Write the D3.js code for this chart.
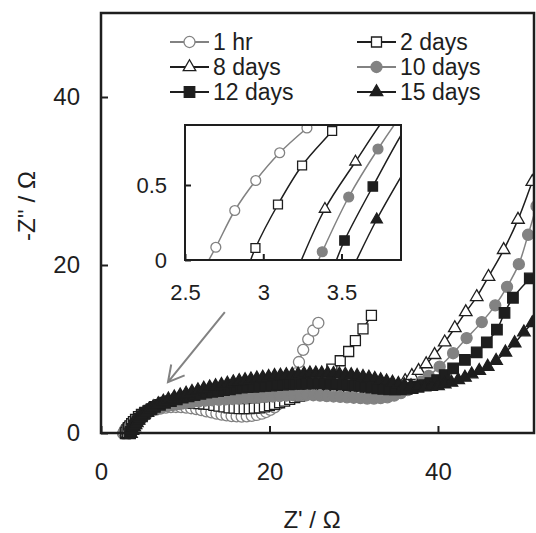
<!DOCTYPE html>
<html>
<head>
<meta charset="utf-8">
<script src="https://cdn.jsdelivr.net/npm/d3@7"></script>
<style>
  body { margin: 0; background: #fff; }
  text { font-family: "Liberation Sans", Arial, sans-serif; fill: #1e1e1e; }
</style>
</head>
<body>
<svg id="chart" width="536" height="533"></svg>
<script>
// Nyquist data: [Z', -Z''] in ohm
const seriesNames = ["1 hr", "2 days", "8 days", "10 days", "12 days", "15 days"];

const hr1 = [[2.62,-0.06],[2.697,0.085],[2.818,0.33],[2.952,0.53],[3.105,0.715],[3.279,0.88],[3.48,1.05],[3.7,1.25],[4.0,1.5],[4.3,1.72],[4.65,1.95],[5.05,2.18],[5.5,2.4],[6.0,2.6],[6.55,2.78],[7.1,2.92],[7.7,3.02],[8.3,3.08],[8.9,3.1],[9.5,3.08],[10.1,3.02],[10.7,2.95],[11.3,2.85],[11.9,2.72],[12.5,2.58],[13.1,2.45],[13.7,2.32],[14.3,2.2],[14.9,2.1],[15.5,2.02],[16.1,1.98],[16.7,1.96],[17.3,1.98],[17.9,2.05],[18.5,2.15],[19.1,2.3],[19.6,2.5],[20.1,2.75],[20.6,3.05],[21.0,3.4],[21.4,3.8],[21.8,4.3],[22.2,4.9],[22.7,5.9],[23.1,7.1],[23.5,8.45],[24.0,9.9],[24.6,11.15],[25.2,12.2],[25.8,13.1]];

const day2 = [[2.9,-0.06],[2.95,0.08],[3.094,0.37],[3.248,0.63],[3.44,0.86],[3.64,1.1],[3.85,1.35],[4.1,1.62],[4.45,1.95],[4.8,2.2],[5.2,2.45],[5.7,2.7],[6.2,2.9],[6.8,3.1],[7.4,3.25],[8.0,3.35],[8.6,3.45],[9.2,3.5],[9.8,3.55],[10.4,3.55],[11.0,3.55],[11.6,3.5],[12.2,3.45],[12.8,3.4],[13.4,3.3],[14.0,3.2],[14.6,3.1],[15.2,3.0],[15.8,2.95],[16.4,2.9],[17.0,2.9],[17.6,2.9],[18.2,2.95],[18.8,3.0],[19.4,3.1],[20.0,3.25],[20.6,3.4],[21.2,3.6],[21.8,3.8],[22.4,4.0],[23.0,4.2],[23.6,4.4],[24.2,4.6],[24.8,4.8],[25.4,5.0],[26.0,5.3],[26.5,5.8],[26.9,6.6],[27.4,7.6],[28.4,8.6],[29.4,9.7],[30.2,11.0],[31.1,12.4],[32.1,14.0]];

const day8 = [[3.22,-0.06],[3.394,0.34],[3.589,0.655],[3.8,0.98],[4.0,1.22],[4.2,1.45],[4.45,1.7],[4.75,1.95],[5.1,2.2],[5.5,2.45],[6.0,2.7],[6.6,2.95],[7.2,3.15],[7.9,3.35],[8.6,3.5],[9.3,3.65],[10.0,3.75],[10.8,3.85],[11.6,3.95],[12.4,4.0],[13.2,4.05],[14.0,4.1],[14.8,4.15],[15.6,4.2],[16.4,4.25],[17.2,4.3],[18.0,4.35],[18.8,4.4],[19.6,4.45],[20.4,4.5],[21.2,4.55],[22.0,4.6],[22.8,4.65],[23.6,4.7],[24.4,4.75],[25.2,4.8],[26.0,4.8],[26.8,4.8],[27.6,4.8],[28.4,4.8],[29.2,4.75],[30.0,4.75],[30.8,4.75],[31.6,4.75],[32.4,4.8],[33.2,4.9],[33.9,5.05],[34.6,5.3],[35.3,5.7],[36.1,6.2],[36.9,6.8],[37.7,7.4],[38.6,8.2],[39.6,9.3],[40.8,10.8],[42.0,12.5],[43.3,14.4],[44.6,16.2],[46.0,18.6],[47.8,21.8],[49.5,25.4],[51.2,29.9],[52.8,34.0]];

const day10 = [[3.33,-0.06],[3.377,0.055],[3.546,0.42],[3.733,0.74],[3.92,1.02],[4.1,1.25],[4.3,1.5],[4.55,1.75],[4.85,2.0],[5.2,2.22],[5.6,2.45],[6.0,2.65],[6.6,2.88],[7.2,3.05],[7.9,3.2],[8.6,3.35],[9.3,3.45],[10.0,3.55],[10.8,3.65],[11.6,3.75],[12.4,3.85],[13.2,3.9],[14.0,3.95],[14.8,4.0],[15.6,4.05],[16.4,4.1],[17.2,4.15],[18.0,4.2],[18.8,4.25],[19.6,4.3],[20.4,4.35],[21.2,4.4],[22.0,4.45],[22.8,4.5],[23.6,4.5],[24.4,4.5],[25.2,4.5],[26.0,4.45],[26.8,4.4],[27.6,4.35],[28.4,4.3],[29.2,4.25],[30.0,4.2],[30.8,4.15],[31.6,4.1],[32.4,4.1],[33.2,4.15],[34.0,4.25],[34.8,4.45],[35.6,4.75],[36.4,5.1],[37.2,5.55],[38.0,6.1],[38.9,6.8],[40.2,7.9],[41.8,9.5],[43.4,11.3],[45.2,13.2],[46.8,15.2],[48.2,17.4],[49.6,20.1],[50.7,23.6],[51.7,27.0]];

const day12 = [[3.45,-0.05],[3.519,0.13],[3.70,0.49],[3.92,0.9],[4.1,1.15],[4.3,1.42],[4.55,1.72],[4.85,2.02],[5.2,2.32],[5.6,2.6],[6.0,2.85],[6.4,3.1],[7.0,3.35],[7.6,3.6],[8.3,3.8],[9.0,4.0],[9.7,4.2],[10.4,4.35],[11.1,4.5],[11.8,4.65],[12.5,4.8],[13.2,4.9],[13.9,5.0],[14.6,5.1],[15.3,5.2],[16.0,5.3],[16.7,5.4],[17.4,5.45],[18.1,5.5],[18.8,5.55],[19.5,5.6],[20.2,5.65],[20.9,5.7],[21.6,5.75],[22.3,5.8],[23.0,5.85],[23.7,5.85],[24.4,5.9],[25.1,5.9],[25.8,5.9],[26.5,5.9],[27.2,5.85],[27.9,5.8],[28.6,5.75],[29.3,5.7],[30.0,5.65],[30.7,5.6],[31.4,5.5],[32.1,5.4],[32.8,5.3],[33.5,5.25],[34.2,5.2],[34.9,5.2],[35.6,5.2],[36.3,5.25],[37.0,5.35],[37.7,5.5],[38.4,5.7],[39.1,5.95],[39.9,6.3],[40.8,6.9],[41.8,7.7],[43.2,8.7],[44.6,9.6],[45.8,10.8],[47.0,12.3],[47.9,14.3],[48.9,16.1],[50.9,18.4],[52.2,19.8]];

const day15 = [[3.56,-0.08],[3.725,0.27],[3.95,0.68],[4.1,0.95],[4.25,1.2],[4.45,1.48],[4.7,1.8],[4.95,2.1],[5.3,2.45],[5.7,2.8],[6.2,3.1],[6.8,3.45],[7.4,3.75],[8.0,4.0],[8.7,4.25],[9.4,4.5],[10.1,4.7],[10.8,4.9],[11.5,5.1],[12.2,5.3],[12.9,5.45],[13.6,5.6],[14.3,5.75],[15.0,5.9],[15.7,6.05],[16.4,6.2],[17.1,6.3],[17.8,6.4],[18.5,6.5],[19.2,6.6],[19.9,6.7],[20.6,6.8],[21.3,6.85],[22.0,6.9],[22.7,6.95],[23.4,7.0],[24.1,7.05],[24.8,7.1],[25.5,7.1],[26.2,7.1],[26.9,7.1],[27.6,7.05],[28.3,7.0],[29.0,6.95],[29.7,6.9],[30.4,6.8],[31.1,6.7],[31.8,6.6],[32.5,6.45],[33.2,6.3],[33.9,6.15],[34.6,6.0],[35.3,5.85],[36.0,5.7],[36.8,5.6],[37.6,5.5],[38.4,5.45],[39.2,5.5],[40.0,5.6],[40.8,5.8],[41.6,6.0],[42.4,6.3],[43.2,6.6],[44.0,7.0],[44.9,7.4],[45.9,7.9],[46.9,8.6],[48.0,9.6],[49.1,10.7],[50.2,12.0],[51.2,13.1],[52.3,14.3]];

// axes
const xTicks = [0, 20, 40];
const yTicks = [0, 20, 40];
const insetXTicks = [2.5, 3, 3.5];
const insetYTicks = [0, 0.5];
// arrow pointing at the high-frequency region, [Z', -Z'']
const arrowFrom = [14.7, 14.4];
const arrowTo = [7.95, 6.05];

const black = "#1e1e1e";
const gray = "#828282";

const styles = [
  { data: hr1,   color: gray,  shape: d3.symbolCircle,   fill: "#fff", size: 96 },
  { data: day2,  color: black, shape: d3.symbolSquare,   fill: "#fff", size: 100 },
  { data: day8,  color: black, shape: d3.symbolTriangle, fill: "#fff", size: 68 },
  { data: day10, color: gray,  shape: d3.symbolCircle,   fill: gray,   size: 96 },
  { data: day12, color: black, shape: d3.symbolSquare,   fill: black,  size: 110 },
  { data: day15, color: black, shape: d3.symbolTriangle, fill: black,  size: 68 }
];
styles.forEach((s, i) => s.name = seriesNames[i]);

const svg = d3.select("#chart");

// main plot
const mLeft = 101, mRight = 534, mTop = 13, mBottom = 433;
const xScale = d3.scaleLinear().domain([0, 51.4]).range([mLeft, mRight]);
const yScale = d3.scaleLinear().domain([0, 50]).range([mBottom, mTop]);

const defs = svg.append("defs");
defs.append("clipPath").attr("id", "mainClip")
  .append("rect")
  .attr("x", mLeft).attr("y", mTop)
  .attr("width", mRight - mLeft).attr("height", mBottom - mTop + 10);

const drawSeries = (g, xs, ys, scale) => {
  const line = d3.line()
    .x(d => xs(d[0])).y(d => ys(d[1]))
    .curve(d3.curveCatmullRom);
  styles.forEach(s => {
    g.append("path")
      .attr("d", line(s.data))
      .attr("fill", "none")
      .attr("stroke", s.color)
      .attr("stroke-width", 1.5);
    g.selectAll(null)
      .data(s.data)
      .join("path")
      .attr("d", d3.symbol().type(s.shape).size(s.size * scale))
      .attr("transform", d => `translate(${xs(d[0])},${ys(d[1])})`)
      .attr("fill", s.fill)
      .attr("stroke", s.color)
      .attr("stroke-width", 1.3);
  });
};

const plot = svg.append("g").attr("clip-path", "url(#mainClip)");
drawSeries(plot, xScale, yScale, 1);

svg.append("rect")
  .attr("x", mLeft).attr("y", mTop)
  .attr("width", mRight - mLeft).attr("height", mBottom - mTop)
  .attr("fill", "none")
  .attr("stroke", black)
  .attr("stroke-width", 2.5);

const xAxis = svg.append("g")
  .attr("transform", `translate(0,${mBottom})`)
  .call(d3.axisBottom(xScale).tickValues(xTicks).tickSizeInner(-7).tickSizeOuter(0).tickPadding(30));
const yAxis = svg.append("g")
  .attr("transform", `translate(${mLeft},0)`)
  .call(d3.axisLeft(yScale).tickValues(yTicks).tickSizeInner(-7).tickSizeOuter(0).tickPadding(21));
[xAxis, yAxis].forEach(a => {
  a.select(".domain").remove();
  a.selectAll("line").attr("stroke", black).attr("stroke-width", 2);
  a.selectAll("text").style("font-size", "24px").attr("fill", black)
    .style("font-family", "'Liberation Sans', Arial, sans-serif");
});

svg.append("text")
  .text("Z' / Ω")
  .attr("x", 312).attr("y", 528)
  .attr("text-anchor", "middle")
  .style("font-size", "24px");
svg.append("text")
  .text("-Z'' / Ω")
  .attr("transform", "translate(35,206) rotate(-90)")
  .attr("text-anchor", "middle")
  .style("font-size", "24px");

// arrow
const ax1 = xScale(arrowFrom[0]), ay1 = yScale(arrowFrom[1]);
const ax2 = xScale(arrowTo[0]), ay2 = yScale(arrowTo[1]);
const ang = Math.atan2(ay1 - ay2, ax1 - ax2);
const head = 18, spread = 0.5;
svg.append("path")
  .attr("d", `M${ax1},${ay1}L${ax2},${ay2}` +
    `M${ax2 + head * Math.cos(ang - spread)},${ay2 + head * Math.sin(ang - spread)}L${ax2},${ay2}` +
    `L${ax2 + head * Math.cos(ang + spread)},${ay2 + head * Math.sin(ang + spread)}`)
  .attr("fill", "none")
  .attr("stroke", gray)
  .attr("stroke-width", 2);

// inset
const iLeft = 185, iRight = 401, iTop = 125, iBottom = 260;
const ixScale = d3.scaleLinear().domain([2.5, 3.88]).range([iLeft, iRight]);
const iyScale = d3.scaleLinear().domain([0, 0.9]).range([iBottom, iTop]);

defs.append("clipPath").attr("id", "insetClip")
  .append("rect")
  .attr("x", iLeft).attr("y", iTop)
  .attr("width", iRight - iLeft).attr("height", iBottom - iTop);

svg.append("rect")
  .attr("x", iLeft).attr("y", iTop)
  .attr("width", iRight - iLeft).attr("height", iBottom - iTop)
  .attr("fill", "#fff");
const inset = svg.append("g").attr("clip-path", "url(#insetClip)");
drawSeries(inset, ixScale, iyScale, 0.8);
svg.append("rect")
  .attr("x", iLeft).attr("y", iTop)
  .attr("width", iRight - iLeft).attr("height", iBottom - iTop)
  .attr("fill", "none")
  .attr("stroke", black)
  .attr("stroke-width", 2);

const ixAxis = svg.append("g")
  .attr("transform", `translate(0,${iBottom})`)
  .call(d3.axisBottom(ixScale).tickValues(insetXTicks).tickFormat(d => d).tickSizeInner(-6).tickSizeOuter(0).tickPadding(24));
const iyAxis = svg.append("g")
  .attr("transform", `translate(${iLeft},0)`)
  .call(d3.axisLeft(iyScale).tickValues(insetYTicks).tickFormat(d => d).tickSizeInner(-6).tickSizeOuter(0).tickPadding(18));
[ixAxis, iyAxis].forEach(a => {
  a.select(".domain").remove();
  a.selectAll("line").attr("stroke", black).attr("stroke-width", 2);
  a.selectAll("text").style("font-size", "22px").attr("fill", black)
    .style("font-family", "'Liberation Sans', Arial, sans-serif");
});

// legend
const legendCols = [170, 357];
const legendRows = [42, 67, 92];
const legend = svg.append("g")
  .selectAll("g")
  .data(styles)
  .join("g")
  .attr("transform", (d, i) => `translate(${legendCols[i % 2]},${legendRows[Math.floor(i / 2)]})`);
legend.append("line")
  .attr("x1", 0).attr("x2", 39)
  .attr("stroke", d => d.color)
  .attr("stroke-width", 2);
legend.append("path")
  .attr("d", d => d3.symbol().type(d.shape).size(d.size)())
  .attr("transform", "translate(19.5,0)")
  .attr("fill", d => d.fill)
  .attr("stroke", d => d.color)
  .attr("stroke-width", 1.3);
legend.append("text")
  .text(d => d.name)
  .attr("x", 43)
  .attr("y", 8)
  .style("font-size", "23px");
</script>
</body>
</html>
